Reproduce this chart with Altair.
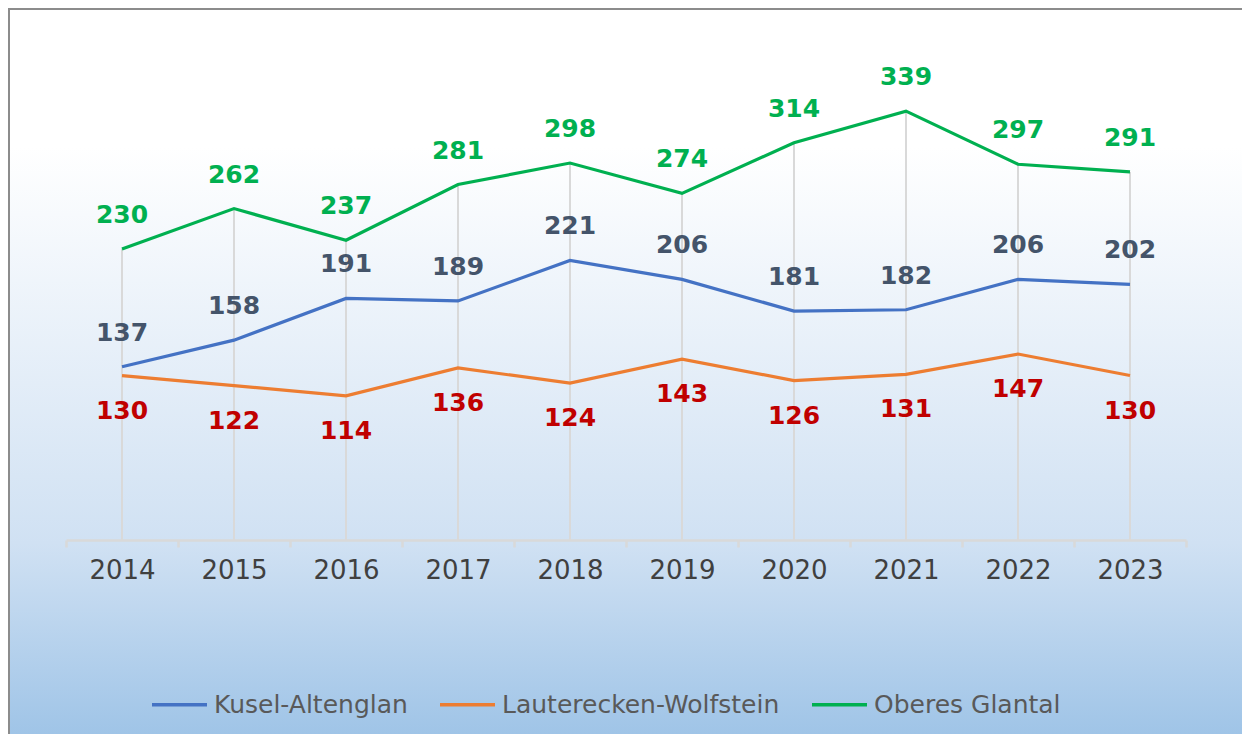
import altair as alt
import pandas as pd

years = ["2014", "2015", "2016", "2017", "2018", "2019", "2020", "2021", "2022", "2023"]
series = ["Kusel-Altenglan", "Lauterecken-Wolfstein", "Oberes Glantal"]
kusel = [137, 158, 191, 189, 221, 206, 181, 182, 206, 202]
lauter = [130, 122, 114, 136, 124, 143, 126, 131, 147, 130]
oberes = [230, 262, 237, 281, 298, 274, 314, 339, 297, 291]

line_colors = ["#4472c4", "#ed7d31", "#00b050"]
label_colors = ["#44546a", "#c00000", "#00b050"]
label_dy = [-34, 35, -34]

rows = []
for name, vals in zip(series, [kusel, lauter, oberes]):
    for y, v in zip(years, vals):
        rows.append({"Jahr": y, "Region": name, "Wert": v})
df = pd.DataFrame(rows)

drop = pd.DataFrame({"Jahr": years, "Max": [max(a, b, c) for a, b, c in zip(kusel, lauter, oberes)]})

W, H = 1120, 506
PAD = {"left": 58, "top": 26, "right": 56, "bottom": 194}

xenc = alt.X("Jahr:N", sort=years,
             scale=alt.Scale(type="band", paddingInner=0, paddingOuter=0),
             axis=alt.Axis(title=None, labelAngle=0, tickBand="extent", grid=False,
                           domainColor="#d9d9d9", domainWidth=2.5, tickColor="#d9d9d9",
                           tickWidth=2.5, tickSize=7, labelFontSize=26, labelColor="#404040",
                           labelPadding=10, labelFont="DejaVu Sans", zindex=1))
yscale = alt.Scale(domain=[0, 400])

bg = alt.Chart(pd.DataFrame({"a": [0]})).mark_rect(
    fill=alt.Gradient(gradient="linear", x1=0, x2=0, y1=0, y2=1,
                      stops=[alt.GradientStop(color="#ffffff", offset=0),
                             alt.GradientStop(color="#ffffff", offset=0.19),
                             alt.GradientStop(color="#d0e1f3", offset=0.735),
                             alt.GradientStop(color="#9fc4e7", offset=1)]),
    stroke="#8c8c8c", strokeWidth=2,
).encode(x=alt.value(-57), x2=alt.value(W + 100), y=alt.value(-25), y2=alt.value(H + 196))

rules = alt.Chart(drop).mark_rule(color="#d9d9d9", strokeWidth=2).encode(
    x=xenc, y=alt.Y("Max:Q", scale=yscale, axis=None), y2=alt.datum(0))

lines = alt.Chart(df).mark_line(strokeWidth=3.2).encode(
    x=xenc,
    y=alt.Y("Wert:Q", scale=yscale, axis=None),
    color=alt.Color("Region:N", sort=series,
                    scale=alt.Scale(domain=series, range=line_colors),
                    legend=alt.Legend(title=None, orient="none", direction="horizontal",
                                      legendX=84, legendY=641, symbolType="stroke",
                                      symbolSize=3025, symbolStrokeWidth=3.5,
                                      labelFontSize=25, labelColor="#595959",
                                      labelFont="DejaVu Sans", labelOffset=5,
                                      columnPadding=25, labelLimit=500)),
    order=alt.Order("Jahr:N"),
)

texts = []
for name, col, dy in zip(series, label_colors, label_dy):
    texts.append(
        alt.Chart(df).transform_filter(alt.datum.Region == name).mark_text(
            font="DejaVu Sans", fontWeight="bold", fontSize=25, color=col,
            dy=dy, baseline="middle", align="center"
        ).encode(x=xenc, y=alt.Y("Wert:Q", scale=yscale, axis=None), text="Wert:Q")
    )

chart = alt.layer(bg, rules, lines, *texts).properties(
    width=W, height=H, padding=PAD,
    autosize=alt.AutoSizeParams(type="none"),
).configure_view(stroke=None).configure(background="#ffffff")

chart.save("out.html", embed_options={"renderer": "svg", "actions": False})
